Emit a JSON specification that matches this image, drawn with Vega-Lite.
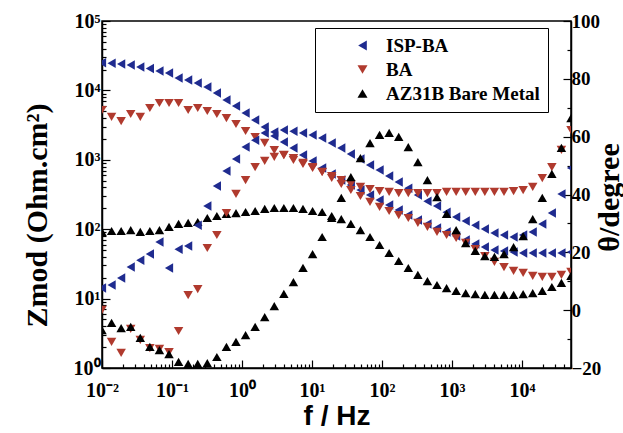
{
"$schema": "https://vega.github.io/schema/vega-lite/v6.json",
"width": 469, "height": 347,
"autosize": {"type": "none"},
"padding": {"left": 102, "top": 21, "right": 52, "bottom": 65},
"background": "white",
"config": {
 "view": {"stroke": "black", "strokeWidth": 1.5},
 "axis": {"domainColor": "black", "domainWidth": 1.5, "tickColor": "black", "tickWidth": 1.2, "labelColor": "black", "titleColor": "black", "labelFont": "Liberation Serif", "labelFontWeight": "bold", "titleFont": "Liberation Serif", "titleFontWeight": "bold", "grid": false, "labelOverlap": false, "labelFlush": false}
},
"data": {"values": [
{"s":"ISP-BA","f":0.01,"z":25100,"p":7.7},
{"s":"ISP-BA","f":0.0137,"z":24600,"p":8.7},
{"s":"ISP-BA","f":0.01877,"z":24000,"p":11.1},
{"s":"ISP-BA","f":0.02571,"z":23200,"p":14.9},
{"s":"ISP-BA","f":0.03523,"z":21700,"p":17.3},
{"s":"ISP-BA","f":0.04827,"z":20700,"p":19.4},
{"s":"ISP-BA","f":0.06613,"z":19000,"p":23.6},
{"s":"ISP-BA","f":0.0906,"z":17800,"p":14.6},
{"s":"ISP-BA","f":0.1241,"z":15100,"p":21.1},
{"s":"ISP-BA","f":0.17,"z":14100,"p":22.2},
{"s":"ISP-BA","f":0.233,"z":12800,"p":29.4},
{"s":"ISP-BA","f":0.3192,"z":11200,"p":36.0},
{"s":"ISP-BA","f":0.4373,"z":9180,"p":42.9},
{"s":"ISP-BA","f":0.5991,"z":7270,"p":48.1},
{"s":"ISP-BA","f":0.8204,"z":5960,"p":52.3},
{"s":"ISP-BA","f":1.124,"z":4730,"p":56.4},
{"s":"ISP-BA","f":1.539,"z":3740,"p":58.8},
{"s":"ISP-BA","f":2.109,"z":2970,"p":61.3},
{"s":"ISP-BA","f":2.89,"z":2200,"p":61.6},
{"s":"ISP-BA","f":3.959,"z":1800,"p":62.3},
{"s":"ISP-BA","f":5.424,"z":1480,"p":61.9},
{"s":"ISP-BA","f":7.43,"z":1170,"p":61.3},
{"s":"ISP-BA","f":10.18,"z":961,"p":60.6},
{"s":"ISP-BA","f":13.94,"z":762,"p":59.5},
{"s":"ISP-BA","f":19.1,"z":624,"p":57.8},
{"s":"ISP-BA","f":26.17,"z":512,"p":56.1},
{"s":"ISP-BA","f":35.85,"z":433,"p":54.0},
{"s":"ISP-BA","f":49.12,"z":367,"p":52.3},
{"s":"ISP-BA","f":67.3,"z":311,"p":50.2},
{"s":"ISP-BA","f":92.19,"z":264,"p":48.5},
{"s":"ISP-BA","f":126.3,"z":223,"p":46.4},
{"s":"ISP-BA","f":173.0,"z":189,"p":44.3},
{"s":"ISP-BA","f":237.1,"z":160,"p":42.2},
{"s":"ISP-BA","f":324.8,"z":136,"p":39.8},
{"s":"ISP-BA","f":444.9,"z":119,"p":37.7},
{"s":"ISP-BA","f":609.5,"z":104,"p":36.0},
{"s":"ISP-BA","f":835.1,"z":91.2,"p":33.9},
{"s":"ISP-BA","f":1144,"z":79.8,"p":32.2},
{"s":"ISP-BA","f":1567,"z":69.9,"p":30.8},
{"s":"ISP-BA","f":2147,"z":61.2,"p":29.4},
{"s":"ISP-BA","f":2941,"z":55.4,"p":28.1},
{"s":"ISP-BA","f":4030,"z":50.2,"p":26.7},
{"s":"ISP-BA","f":5521,"z":48.5,"p":26.0},
{"s":"ISP-BA","f":7563,"z":46.9,"p":25.3},
{"s":"ISP-BA","f":10361,"z":45.4,"p":26.0},
{"s":"ISP-BA","f":14195,"z":45.4,"p":27.0},
{"s":"ISP-BA","f":19449,"z":45.4,"p":29.8},
{"s":"ISP-BA","f":26643,"z":45.4,"p":33.6},
{"s":"ISP-BA","f":36500,"z":45.4,"p":40.2},
{"s":"ISP-BA","f":50000,"z":46.9,"p":49.2},
{"s":"BA","f":0.01,"z":5220,"p":0.1},
{"s":"BA","f":0.0137,"z":4140,"p":-11.0},
{"s":"BA","f":0.01877,"z":3620,"p":-14.8},
{"s":"BA","f":0.02571,"z":4570,"p":-6.5},
{"s":"BA","f":0.03523,"z":4140,"p":-10.3},
{"s":"BA","f":0.04827,"z":5580,"p":-13.1},
{"s":"BA","f":0.06613,"z":6580,"p":-13.4},
{"s":"BA","f":0.0906,"z":6580,"p":-14.5},
{"s":"BA","f":0.1241,"z":6580,"p":-7.2},
{"s":"BA","f":0.17,"z":5220,"p":5.2},
{"s":"BA","f":0.233,"z":5580,"p":7.3},
{"s":"BA","f":0.3192,"z":5050,"p":21.5},
{"s":"BA","f":0.4373,"z":4570,"p":26.0},
{"s":"BA","f":0.5991,"z":4000,"p":33.6},
{"s":"BA","f":0.8204,"z":3280,"p":40.2},
{"s":"BA","f":1.124,"z":2600,"p":45.0},
{"s":"BA","f":1.539,"z":2130,"p":49.5},
{"s":"BA","f":2.109,"z":1750,"p":51.6},
{"s":"BA","f":2.89,"z":1380,"p":53.0},
{"s":"BA","f":3.959,"z":1170,"p":53.7},
{"s":"BA","f":5.424,"z":993,"p":52.6},
{"s":"BA","f":7.43,"z":870,"p":50.9},
{"s":"BA","f":10.18,"z":762,"p":49.5},
{"s":"BA","f":13.94,"z":667,"p":47.8},
{"s":"BA","f":19.1,"z":547,"p":46.4},
{"s":"BA","f":26.17,"z":448,"p":45.0},
{"s":"BA","f":35.85,"z":367,"p":43.6},
{"s":"BA","f":49.12,"z":301,"p":42.6},
{"s":"BA","f":67.3,"z":247,"p":41.9},
{"s":"BA","f":92.19,"z":209,"p":41.2},
{"s":"BA","f":126.3,"z":183,"p":40.9},
{"s":"BA","f":173.0,"z":160,"p":40.5},
{"s":"BA","f":237.1,"z":145,"p":40.5},
{"s":"BA","f":324.8,"z":123,"p":40.5},
{"s":"BA","f":444.9,"z":108,"p":40.5},
{"s":"BA","f":609.5,"z":91.2,"p":40.5},
{"s":"BA","f":835.1,"z":82.5,"p":40.9},
{"s":"BA","f":1144,"z":74.7,"p":40.9},
{"s":"BA","f":1567,"z":63.3,"p":40.9},
{"s":"BA","f":2147,"z":51.8,"p":40.9},
{"s":"BA","f":2941,"z":41.1,"p":40.9},
{"s":"BA","f":4030,"z":33.7,"p":40.9},
{"s":"BA","f":5521,"z":28.5,"p":40.9},
{"s":"BA","f":7563,"z":25.0,"p":41.2},
{"s":"BA","f":10361,"z":23.4,"p":41.5},
{"s":"BA","f":14195,"z":21.2,"p":42.6},
{"s":"BA","f":19449,"z":20.5,"p":45.7},
{"s":"BA","f":26643,"z":20.5,"p":49.5},
{"s":"BA","f":36500,"z":21.9,"p":55.4},
{"s":"BA","f":50000,"z":24.2,"p":62.3},
{"s":"AZ31B Bare Metal","f":0.01,"z":91.2,"p":-6.9},
{"s":"AZ31B Bare Metal","f":0.0137,"z":94.2,"p":-4.4},
{"s":"AZ31B Bare Metal","f":0.01877,"z":94.2,"p":-6.2},
{"s":"AZ31B Bare Metal","f":0.02571,"z":97.3,"p":-5.8},
{"s":"AZ31B Bare Metal","f":0.03523,"z":91.2,"p":-9.6},
{"s":"AZ31B Bare Metal","f":0.04827,"z":94.2,"p":-12.7},
{"s":"AZ31B Bare Metal","f":0.06613,"z":97.3,"p":-13.8},
{"s":"AZ31B Bare Metal","f":0.0906,"z":108,"p":-15.2},
{"s":"AZ31B Bare Metal","f":0.1241,"z":119,"p":-17.9},
{"s":"AZ31B Bare Metal","f":0.17,"z":123,"p":-18.6},
{"s":"AZ31B Bare Metal","f":0.233,"z":127,"p":-18.6},
{"s":"AZ31B Bare Metal","f":0.3192,"z":145,"p":-18.3},
{"s":"AZ31B Bare Metal","f":0.4373,"z":155,"p":-16.2},
{"s":"AZ31B Bare Metal","f":0.5991,"z":166,"p":-12.7},
{"s":"AZ31B Bare Metal","f":0.8204,"z":171,"p":-11.0},
{"s":"AZ31B Bare Metal","f":1.124,"z":177,"p":-8.6},
{"s":"AZ31B Bare Metal","f":1.539,"z":183,"p":-5.8},
{"s":"AZ31B Bare Metal","f":2.109,"z":196,"p":-2.4},
{"s":"AZ31B Bare Metal","f":2.89,"z":202,"p":1.4},
{"s":"AZ31B Bare Metal","f":3.959,"z":202,"p":5.6},
{"s":"AZ31B Bare Metal","f":5.424,"z":202,"p":9.7},
{"s":"AZ31B Bare Metal","f":7.43,"z":196,"p":14.6},
{"s":"AZ31B Bare Metal","f":10.18,"z":183,"p":19.4},
{"s":"AZ31B Bare Metal","f":13.94,"z":177,"p":25.3},
{"s":"AZ31B Bare Metal","f":19.1,"z":155,"p":31.9},
{"s":"AZ31B Bare Metal","f":26.17,"z":140,"p":38.8},
{"s":"AZ31B Bare Metal","f":35.85,"z":119,"p":46.0},
{"s":"AZ31B Bare Metal","f":49.12,"z":97.3,"p":52.6},
{"s":"AZ31B Bare Metal","f":67.3,"z":77.2,"p":57.8},
{"s":"AZ31B Bare Metal","f":92.19,"z":59.2,"p":60.6},
{"s":"AZ31B Bare Metal","f":126.3,"z":45.4,"p":61.3},
{"s":"AZ31B Bare Metal","f":173.0,"z":34.8,"p":59.9},
{"s":"AZ31B Bare Metal","f":237.1,"z":27.6,"p":56.4},
{"s":"AZ31B Bare Metal","f":324.8,"z":21.9,"p":51.2},
{"s":"AZ31B Bare Metal","f":444.9,"z":17.9,"p":45.0},
{"s":"AZ31B Bare Metal","f":609.5,"z":15.7,"p":39.1},
{"s":"AZ31B Bare Metal","f":835.1,"z":14.2,"p":33.3},
{"s":"AZ31B Bare Metal","f":1144,"z":12.9,"p":27.7},
{"s":"AZ31B Bare Metal","f":1567,"z":12.0,"p":23.2},
{"s":"AZ31B Bare Metal","f":2147,"z":11.6,"p":20.5},
{"s":"AZ31B Bare Metal","f":2941,"z":11.3,"p":18.7},
{"s":"AZ31B Bare Metal","f":4030,"z":11.3,"p":18.4},
{"s":"AZ31B Bare Metal","f":5521,"z":11.3,"p":19.4},
{"s":"AZ31B Bare Metal","f":7563,"z":11.3,"p":21.8},
{"s":"AZ31B Bare Metal","f":10361,"z":11.6,"p":25.6},
{"s":"AZ31B Bare Metal","f":14195,"z":12.0,"p":31.5},
{"s":"AZ31B Bare Metal","f":19449,"z":12.9,"p":38.8},
{"s":"AZ31B Bare Metal","f":26643,"z":14.7,"p":47.1},
{"s":"AZ31B Bare Metal","f":36500,"z":16.8,"p":56.1},
{"s":"AZ31B Bare Metal","f":50000,"z":21.2,"p":66.4}
]},
"encoding": {
 "x": {"field": "f", "type": "quantitative",
  "scale": {"type": "log", "domain": [0.01, 50000]},
  "axis": {
   "title": "f / Hz", "titleFont": "Liberation Sans", "titleFontSize": 28, "titleBaseline": "alphabetic", "titleY": 56,
   "values": [0.01,0.02,0.03,0.04,0.05,0.06,0.07,0.08,0.09,0.1,0.2,0.3,0.4,0.5,0.6,0.7,0.8,0.9,1,2,3,4,5,6,7,8,9,10,20,30,40,50,60,70,80,90,100,200,300,400,500,600,700,800,900,1000,2000,3000,4000,5000,6000,7000,8000,9000,10000,20000,30000,40000,50000],
   "labelExpr": "abs(log(datum.value)/LN10 - round(log(datum.value)/LN10)) < 0.001 ? '10' + ['⁻²','⁻¹','⁰','¹','²','³','⁴','⁵'][round(log(datum.value)/LN10)+2] : ''",
   "labelFontSize": 20, "labelBaseline": "alphabetic", "labelPadding": 36,
   "tickSize": {"condition": {"test": "abs(log(datum.value)/LN10 - round(log(datum.value)/LN10)) < 0.001", "value": -8}, "value": -4}
  }}
},
"layer": [
 {"mark": {"type": "point", "filled": true, "size": 90, "opacity": 1, "clip": true},
  "encoding": {
   "y": {"field": "z", "type": "quantitative",
    "scale": {"type": "log", "domain": [1, 100000]},
    "axis": {"orient": "left", "title": "Zmod (Ohm.cm²)", "titleFontSize": 30, "titleAngle": 270, "titleBaseline": "middle", "titleAlign": "center", "titleX": -65, "titleY": 194,
     "values": [1,2,3,4,5,6,7,8,9,10,20,30,40,50,60,70,80,90,100,200,300,400,500,600,700,800,900,1000,2000,3000,4000,5000,6000,7000,8000,9000,10000,20000,30000,40000,50000,60000,70000,80000,90000,100000],
     "labelExpr": "abs(log(datum.value)/LN10 - round(log(datum.value)/LN10)) < 0.001 ? '10' + ['⁻²','⁻¹','⁰','¹','²','³','⁴','⁵'][round(log(datum.value)/LN10)+2] : ''",
     "labelFontSize": 20, "labelPadding": 10,
     "tickSize": {"condition": {"test": "abs(log(datum.value)/LN10 - round(log(datum.value)/LN10)) < 0.001", "value": -8}, "value": -4}
    }},
   "color": {"field": "s", "type": "nominal",
    "scale": {"domain": ["ISP-BA", "BA", "AZ31B Bare Metal"], "range": ["#1f2b8f", "#b03a2e", "#000000"]},
    "legend": {"title": null, "orient": "none", "legendX": 213, "legendY": 7, "strokeColor": "black", "fillColor": "white", "padding": 8, "symbolOffset": 30, "labelOffset": 14, "rowPadding": 4, "symbolSize": 100, "labelFont": "Liberation Serif", "labelFontWeight": "bold", "labelFontSize": 19, "labelColor": "black"}},
   "shape": {"field": "s", "type": "nominal",
    "scale": {"domain": ["ISP-BA", "BA", "AZ31B Bare Metal"], "range": ["triangle-left", "triangle-down", "triangle-up"]},
    "legend": {"title": null, "orient": "none", "legendX": 213, "legendY": 7, "strokeColor": "black", "fillColor": "white", "padding": 8, "symbolOffset": 30, "labelOffset": 14, "rowPadding": 4, "symbolSize": 100, "labelFont": "Liberation Serif", "labelFontWeight": "bold", "labelFontSize": 19, "labelColor": "black"}}
  }},
 {"mark": {"type": "point", "filled": true, "size": 90, "opacity": 1, "clip": true},
  "encoding": {
   "y": {"field": "p", "type": "quantitative",
    "scale": {"domain": [-20, 100]},
    "axis": {"orient": "right", "title": "θ/degree", "titleFontSize": 30, "titleAngle": 270, "titleBaseline": "middle", "titleAlign": "center", "titleX": 38, "titleY": 176,
     "values": [-20,-10,0,10,20,30,40,50,60,70,80,90,100],
     "labelExpr": "datum.value % 20 == 0 ? datum.label : ''",
     "labelFontSize": 19, "labelPadding": 8,
     "tickSize": {"condition": {"test": "datum.value % 20 == 0", "value": -8}, "value": -4}
    }},
   "color": {"field": "s", "type": "nominal",
    "scale": {"domain": ["ISP-BA", "BA", "AZ31B Bare Metal"], "range": ["#1f2b8f", "#b03a2e", "#000000"]}},
   "shape": {"field": "s", "type": "nominal",
    "scale": {"domain": ["ISP-BA", "BA", "AZ31B Bare Metal"], "range": ["triangle-left", "triangle-down", "triangle-up"]}}
  }}
],
"resolve": {"scale": {"y": "independent"}}
}
